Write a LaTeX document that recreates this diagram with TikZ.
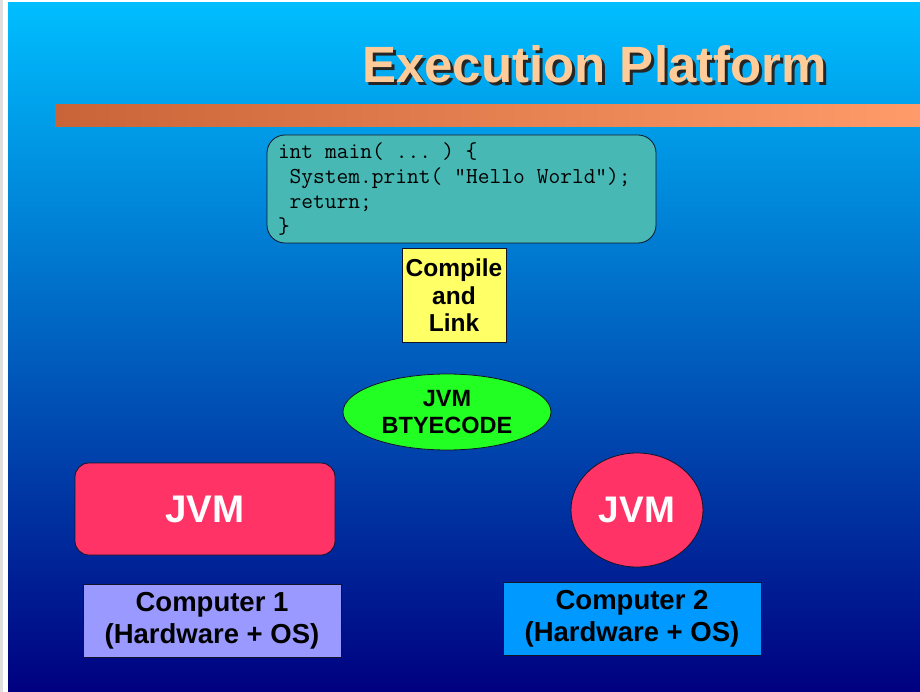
\documentclass[tikz,border=0pt]{standalone}
\usepackage{fontspec}
\setmainfont{Liberation Sans}
\usetikzlibrary{shapes.geometric}

\definecolor{skytop}{RGB}{0,190,255}
\definecolor{navybot}{RGB}{0,0,128}
\definecolor{barleft}{RGB}{200,100,55}
\definecolor{barright}{RGB}{255,155,105}
\definecolor{titlepeach}{RGB}{255,204,153}
\definecolor{codeteal}{RGB}{72,184,180}
\definecolor{noteyellow}{RGB}{255,255,102}
\definecolor{bytegreen}{RGB}{34,255,34}
\definecolor{jvmred}{RGB}{255,51,102}
\definecolor{hostlilac}{RGB}{153,153,255}
\definecolor{hostblue}{RGB}{0,153,255}
\definecolor{edgedark}{RGB}{20,20,40}

\tikzset{
  shape outline/.style={draw=edgedark, line width=0.8pt},
  boldlabel/.style={font=\bfseries, align=center, text=black},
  jvmlabel/.style={text=white, font=\bfseries\fontsize{#1}{40}\selectfont},
  hostbox/.style={shape outline, rectangle, minimum width=258pt, minimum height=73pt,
    inner sep=0pt, boldlabel, font=\bfseries\fontsize{27.5}{32}\selectfont},
}

% title text with a drop shadow set behind it
\newcommand{\shadowedtitle}[1]{%
  \rlap{\raisebox{-3pt}{\hspace{3pt}\textcolor{black!85}{#1}}}#1}
% fixed-width spaces for the code listing
\newcommand{\codespacing}{\spaceskip=0.525em\relax}

\begin{document}
\begin{tikzpicture}[x=1pt, y=-1pt]
\useasboundingbox (0,0) rectangle (920,692);

% slide frame and blue gradient background
\fill[white] (0,0) rectangle (920,692);
\fill[gray!25] (0,0) rectangle (3,692);
\shade[top color=skytop, bottom color=navybot] (8,3) rectangle (920,692);

% title bar
\shade[left color=barleft, right color=barright] (55,105) rectangle (920,127);

% title
\node[text=titlepeach, font=\bfseries\fontsize{51}{56}\selectfont] (title) at (594.5,66)
  {\shadowedtitle{Execution Platform}};

% source code
\node[shape outline, rectangle, rounded corners=18pt, fill=codeteal,
      minimum width=389pt, minimum height=108pt, inner xsep=11pt, inner ysep=0pt,
      text width=367pt, align=left,
      font=\ttfamily\fontsize{22.8}{25}\selectfont]
  (code) at (461.5,189) {\codespacing int main( ... ) \{\\
\hphantom{x}System.print( "Hello World");\\
\hphantom{x}return;\\
\}};

% compile step
\node[shape outline, rectangle, fill=noteyellow, minimum width=104pt, minimum height=94pt,
      inner sep=0pt, boldlabel, font=\bfseries\fontsize{24.5}{27.5}\selectfont]
  (compile) at (454,295.5) {Compile\\and\\Link};

% bytecode
\node[shape outline, ellipse, fill=bytegreen, minimum width=208pt, minimum height=76pt,
      inner sep=0pt, boldlabel, font=\bfseries\fontsize{23.5}{27}\selectfont]
  (bytecode) at (447,412) {JVM\\BTYECODE};

% virtual machines
\node[shape outline, rectangle, rounded corners=14pt, fill=jvmred,
      minimum width=260pt, minimum height=92pt, inner sep=0pt, jvmlabel=38.5]
  (jvm1) at (205,509) {JVM};
\node[shape outline, ellipse, fill=jvmred, minimum width=132pt, minimum height=114pt,
      inner sep=0pt, jvmlabel=37]
  (jvm2) at (637,510) {JVM};

% host machines
\node[hostbox, fill=hostlilac] (host1) at (212,620.5) {Computer 1\\(Hardware + OS)};
\node[hostbox, fill=hostblue] (host2) at (632,618.5) {Computer 2\\(Hardware + OS)};

\end{tikzpicture}
\end{document}
